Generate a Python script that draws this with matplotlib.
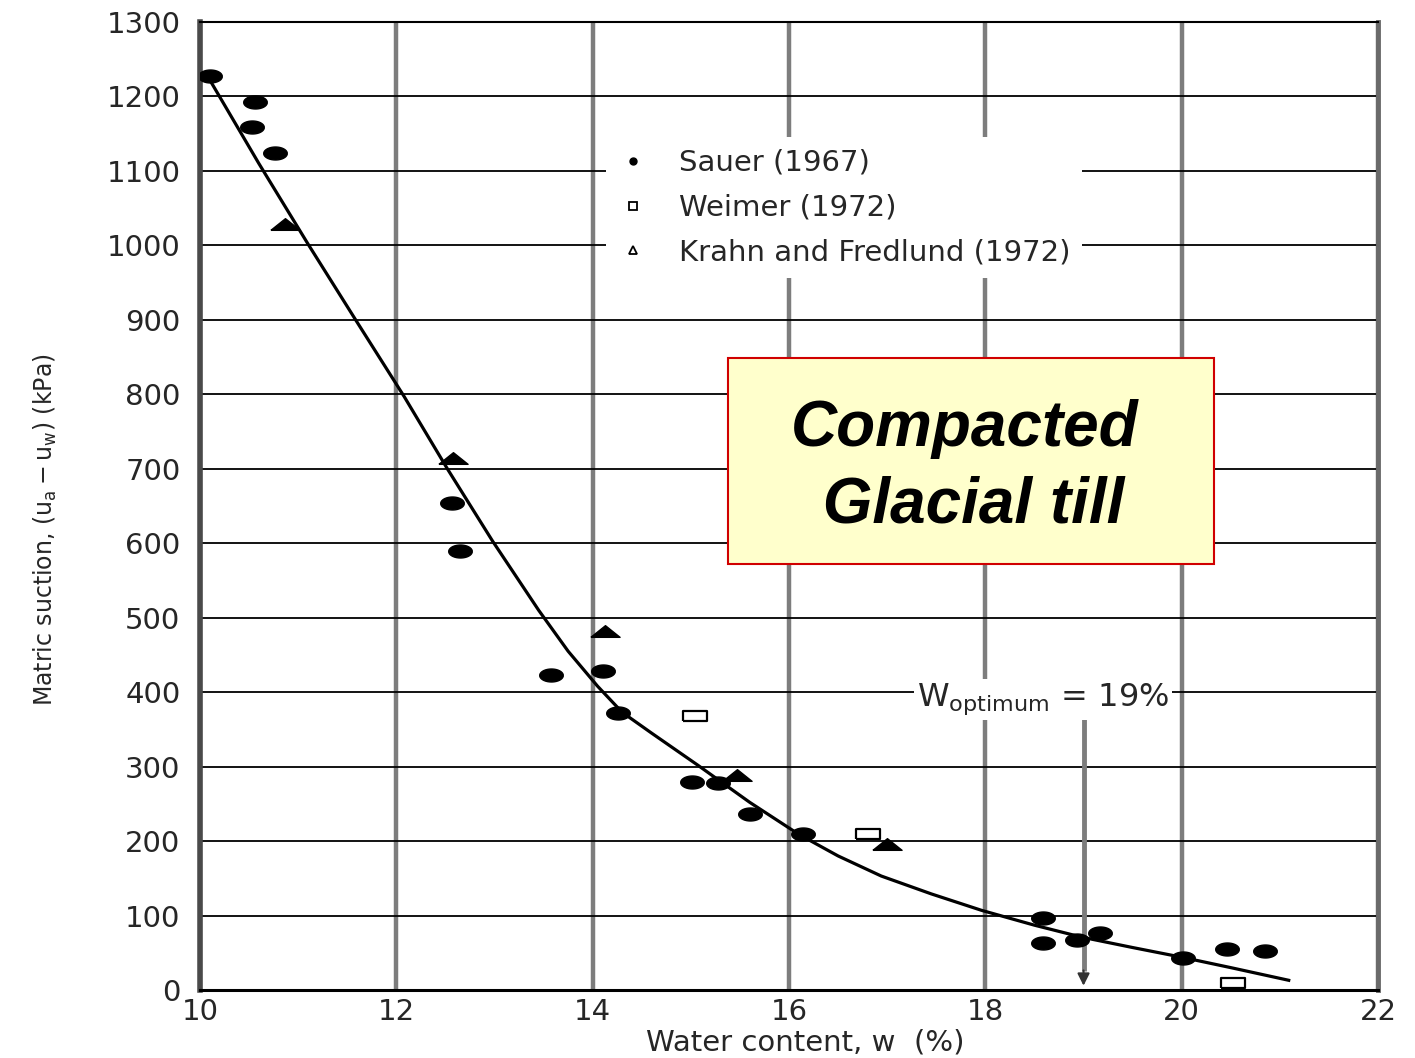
import numpy as np
import matplotlib.pyplot as plt
from matplotlib.lines import Line2D
from matplotlib.patches import Rectangle

# Sauer (1967) - filled circles
sauer_w = [10.1, 10.53, 10.56, 10.76, 12.57, 12.65, 13.58, 14.11, 14.26, 15.01,
           15.28, 15.6, 16.14, 18.59, 18.59, 18.93, 19.17, 20.01, 20.46, 20.85]
sauer_s = [1227, 1159, 1192, 1124, 654, 590, 423, 428, 372, 279,
           278, 237, 210, 97, 63, 67, 77, 43, 55, 52]

# Weimer (1972) - open squares
weimer_w = [15.04, 16.8, 20.52]
weimer_s = [368, 209, 9]

# Krahn and Fredlund (1972) - filled triangles
krahn_w = [10.87, 12.58, 14.13, 15.47, 17.0]
krahn_s = [1029, 714, 482, 289, 196]

# hand drawn fitted curve
curve_w = [10.07, 10.6, 11.1, 11.6, 12.08, 12.52, 12.98, 13.45, 13.75, 14.05,
           14.3, 14.6, 15.07, 15.6, 16.1, 16.5, 16.94, 17.45, 17.96, 18.5,
           18.98, 19.5, 20.0, 20.5, 21.09]
curve_s = [1229, 1110, 1002, 897, 797, 700, 603, 510, 455, 408,
           373, 345, 302, 252, 209, 180, 153, 129, 107, 87,
           71, 57, 44, 30, 13]

w_opt = 19

xticks = list(range(10, 23, 2))
yticks = list(range(0, 1301, 100))

# marker shapes (flattened, as in the scanned figure)
t = np.linspace(0, 2 * np.pi, 40)
ellipse = np.column_stack([np.cos(t), 0.55 * np.sin(t)])
flat_tri = [(-1, -0.4), (1, -0.4), (0, 0.4), (-1, -0.4)]
flat_box = [(-1, -0.45), (1, -0.45), (1, 0.45), (-1, 0.45), (-1, -0.45)]

txt = '#262626'

fig = plt.figure(figsize=(14.15, 10.58), dpi=100)
ax = fig.add_axes([0.1413, 0.0643, 0.8326, 0.9149])

ax.set_xlim(10, 22)
ax.set_ylim(0, 1300)
ax.set_xticks(xticks)
ax.set_yticks(yticks)
ax.set_axisbelow(True)
ax.grid(axis='x', color='#7d7d7d', lw=3.2)
ax.grid(axis='y', color='black', lw=1.3)
ax.tick_params(length=0, labelsize=21, labelcolor=txt)
ax.tick_params(axis='y', pad=14)
ax.tick_params(axis='x', pad=6)

ax.spines['left'].set_linewidth(4)
ax.spines['left'].set_color('#4a4a4a')
ax.spines['right'].set_linewidth(3.5)
ax.spines['right'].set_color('#6a6a6a')
ax.spines['top'].set_linewidth(1.5)
ax.spines['bottom'].set_linewidth(2.2)

ax.plot(curve_w, curve_s, color='black', lw=2.3, zorder=3, solid_joinstyle='round')
ax.plot(sauer_w, sauer_s, ls='none', marker=ellipse, ms=17, color='black', zorder=4)
ax.plot(weimer_w, weimer_s, ls='none', marker=flat_box, ms=17, mfc='white',
        mec='black', mew=1.6, zorder=4)
ax.plot(krahn_w, krahn_s, ls='none', marker=flat_tri, ms=21, color='black', zorder=4)

handles = [
    Line2D([], [], ls='none', marker='o', ms=5, color='black'),
    Line2D([], [], ls='none', marker='s', ms=6, mfc='white', mec='black', mew=1.3),
    Line2D([], [], ls='none', marker='^', ms=6, mfc='white', mec='black', mew=1.3),
]
labels = ['Sauer (1967)', 'Weimer (1972)', 'Krahn and Fredlund (1972)']
leg = ax.legend(handles, labels, loc='upper left', bbox_to_anchor=(0.345, 0.881),
                borderaxespad=0, fontsize=21, handlelength=1.0, handletextpad=1.1,
                labelspacing=0.58, frameon=True, fancybox=False, framealpha=1)
leg.get_frame().set_edgecolor('none')
for tx in leg.get_texts():
    tx.set_color(txt)

# optimum water content arrow
ax.vlines(w_opt, 25, 366, color='#7d7d7d', lw=3.5, zorder=2)
ax.annotate('', xy=(w_opt, 2), xytext=(w_opt, 30),
            arrowprops=dict(arrowstyle='-|>', color='#333333', lw=1.5,
                            mutation_scale=18), zorder=3)
ax.text(17.3, 382, r'$\mathrm{W_{optimum}}$ = 19%', fontsize=23, color=txt,
        ha='left', va='baseline', math_fontfamily='dejavusans',
        bbox=dict(fc='white', ec='none', pad=2), zorder=3)

# label box
ax.add_patch(Rectangle((0.4482, 0.4401), 0.4126, 0.2128, transform=ax.transAxes,
                       fc='#FFFFCC', ec='#D00000', lw=1.5, zorder=5))
ax.text(0.6494, 0.5405, 'Compacted\n Glacial till', transform=ax.transAxes,
        ha='center', va='center', fontsize=46, fontweight='bold', fontstyle='italic',
        linespacing=1.35, family=['Liberation Sans', 'DejaVu Sans'], zorder=6)

ax.set_xlabel('Water content, w  (%)', fontsize=21, color=txt)
ax.xaxis.set_label_coords(0.514, -0.04)
ax.set_ylabel(r'Matric suction, $(\mathrm{u_a - u_w})$ (kPa)', fontsize=17, color=txt,
              math_fontfamily='dejavusans')
ax.yaxis.set_label_coords(-0.12, 0.475)

fig.savefig('out.png', dpi=100)
